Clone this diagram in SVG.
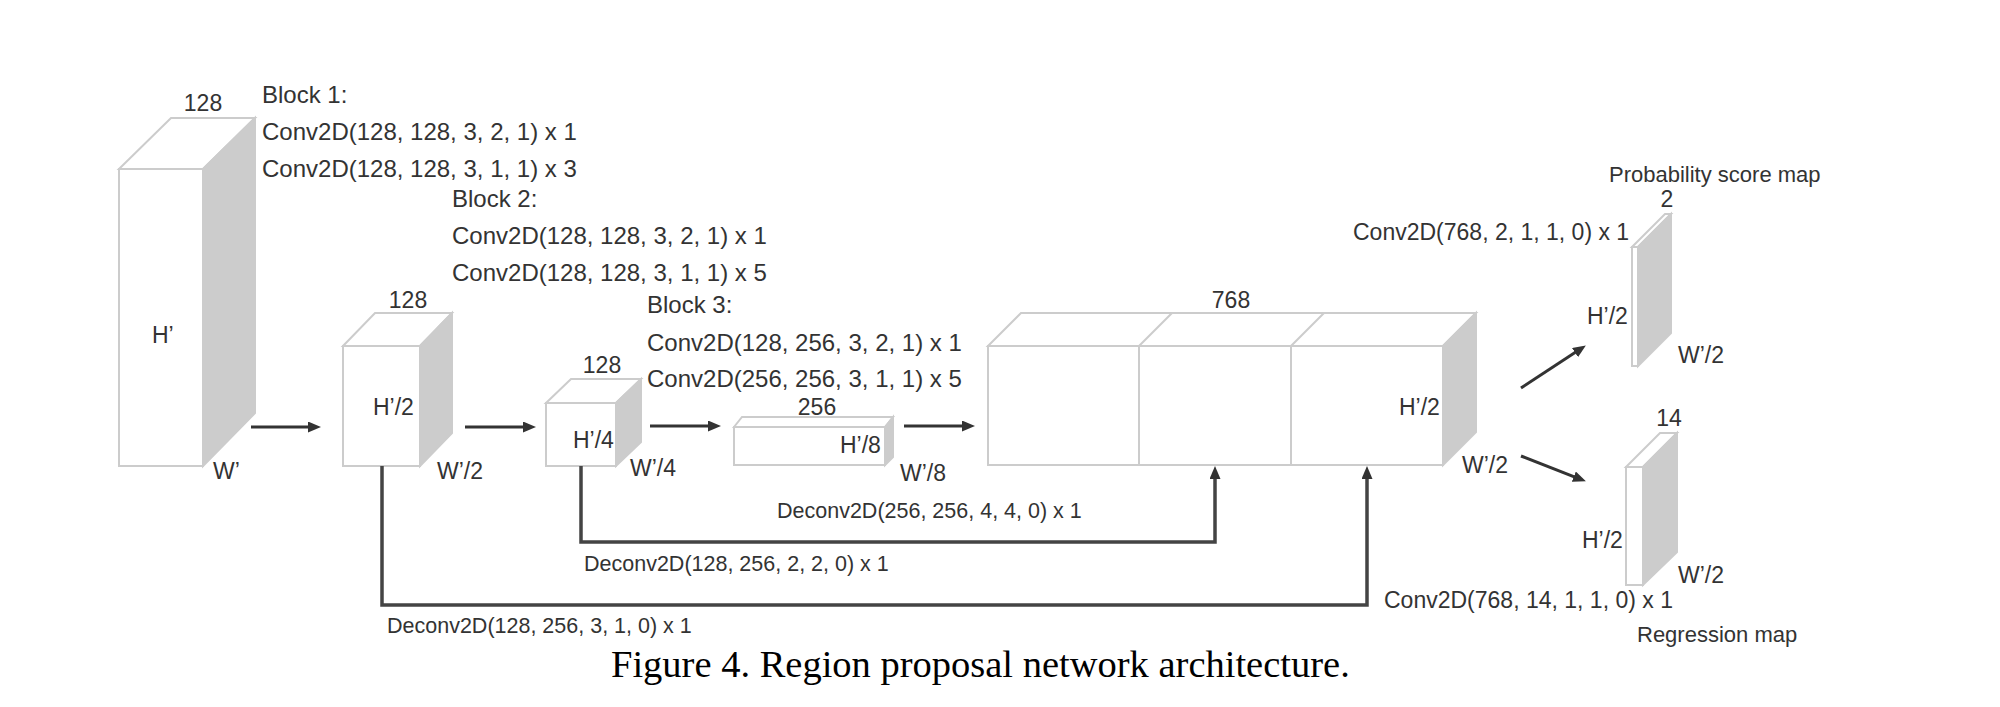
<svg xmlns="http://www.w3.org/2000/svg" width="2000" height="707" viewBox="0 0 2000 707">
<defs>
<style>
.face{fill:#ffffff;stroke:#cccccc;stroke-width:2;stroke-linejoin:miter}
.side{fill:#cccccc;stroke:#cccccc;stroke-width:2}
.t{font-family:"Liberation Sans",Arial,sans-serif;fill:#333333}
.blk{font-size:24px}
.dim{font-size:23px}
.num{font-size:23px;text-anchor:middle}
.dc{font-size:21.5px}
.cv{font-size:23px}
.lbl{font-size:22px}
.cap{font-family:"Liberation Serif","Times New Roman",serif;font-size:38.5px;fill:#000000}
.arr{fill:none;stroke:#333333;stroke-width:3;marker-end:url(#ah)}
.conn{fill:none;stroke:#444444;stroke-width:3.5;marker-end:url(#ah)}
</style>
<marker id="ah" markerUnits="userSpaceOnUse" markerWidth="13" markerHeight="11" refX="6" refY="5.5" orient="auto">
<path d="M0,0 L13,5.5 L0,11 z" fill="#333333"/>
</marker>
</defs>
<rect width="2000" height="707" fill="#ffffff"/>

<g id="box1">
<polygon class="face" points="119,169 171,118 255,118 203,169"/>
<polygon class="side" points="203,169 255,118 255,413 203,466"/>
<rect class="face" x="119" y="169" width="84" height="297"/>
<text class="t num" x="203" y="111">128</text>
<text class="t dim" x="152" y="343">H’</text>
<text class="t dim" x="213" y="479">W’</text>
</g>

<g id="block1-label">
<text class="t blk" x="262" y="103">Block 1:</text>
<text class="t blk" x="262" y="140">Conv2D(128, 128, 3, 2, 1) x 1</text>
<text class="t blk" x="262" y="177">Conv2D(128, 128, 3, 1, 1) x 3</text>
</g>

<g id="box2">
<polygon class="face" points="343,346 375,313 452,313 420,346"/>
<polygon class="side" points="420,346 452,313 452,433 420,466"/>
<rect class="face" x="343" y="346" width="77" height="120"/>
<text class="t num" x="408" y="308">128</text>
<text class="t dim" x="373" y="415">H’/2</text>
<text class="t dim" x="437" y="479">W’/2</text>
</g>

<g id="block2-label">
<text class="t blk" x="452" y="207">Block 2:</text>
<text class="t blk" x="452" y="244">Conv2D(128, 128, 3, 2, 1) x 1</text>
<text class="t blk" x="452" y="281">Conv2D(128, 128, 3, 1, 1) x 5</text>
</g>

<g id="box3">
<polygon class="face" points="546,403 571,379 641,379 616,403"/>
<polygon class="side" points="616,403 641,379 641,442 616,466"/>
<rect class="face" x="546" y="403" width="70" height="63"/>
<text class="t num" x="602" y="373">128</text>
<text class="t dim" x="573" y="448">H’/4</text>
<text class="t dim" x="630" y="476">W’/4</text>
</g>

<g id="block3-label">
<text class="t blk" x="647" y="313">Block 3:</text>
<text class="t blk" x="647" y="351">Conv2D(128, 256, 3, 2, 1) x 1</text>
<text class="t blk" x="647" y="387">Conv2D(256, 256, 3, 1, 1) x 5</text>
</g>

<g id="box4">
<polygon class="face" points="734,427 742,417 893,417 885,427"/>
<polygon class="side" points="885,427 893,417 893,457 885,465"/>
<rect class="face" x="734" y="427" width="151" height="38"/>
<text class="t num" x="817" y="415">256</text>
<text class="t dim" x="840" y="453">H’/8</text>
<text class="t dim" x="900" y="481">W’/8</text>
</g>

<g id="concat">
<polygon class="face" points="988,346 1021,313 1476,313 1443,346"/>
<line class="face" x1="1139" y1="346" x2="1172" y2="313"/>
<line class="face" x1="1291" y1="346" x2="1324" y2="313"/>
<polygon class="side" points="1443,346 1476,313 1476,432 1443,465"/>
<rect class="face" x="988" y="346" width="455" height="119"/>
<line class="face" x1="1139" y1="346" x2="1139" y2="465"/>
<line class="face" x1="1291" y1="346" x2="1291" y2="465"/>
<text class="t num" x="1231" y="308">768</text>
<text class="t dim" x="1399" y="415">H’/2</text>
<text class="t dim" x="1462" y="473">W’/2</text>
</g>

<g id="prob-map">
<polygon class="face" points="1632,247 1665,214 1671,214 1638,247"/>
<polygon class="side" points="1638,247 1671,214 1671,333 1638,366"/>
<rect class="face" x="1632" y="247" width="6" height="119"/>
<text class="t lbl" x="1609" y="182">Probability score map</text>
<text class="t num" x="1667" y="207">2</text>
<text class="t cv" x="1353" y="240">Conv2D(768, 2, 1, 1, 0) x 1</text>
<text class="t dim" x="1587" y="324">H’/2</text>
<text class="t dim" x="1678" y="363">W’/2</text>
</g>

<g id="reg-map">
<polygon class="face" points="1626,467 1660,433 1677,433 1643,467"/>
<polygon class="side" points="1643,467 1677,433 1677,552 1643,585"/>
<rect class="face" x="1626" y="467" width="17" height="118"/>
<text class="t num" x="1669" y="426">14</text>
<text class="t dim" x="1582" y="548">H’/2</text>
<text class="t dim" x="1678" y="583">W’/2</text>
<text class="t cv" x="1384" y="608">Conv2D(768, 14, 1, 1, 0) x 1</text>
<text class="t lbl" x="1637" y="642">Regression map</text>
</g>

<g id="connectors">
<line class="arr" x1="251" y1="427" x2="314" y2="427"/>
<line class="arr" x1="465" y1="427" x2="529" y2="427"/>
<line class="arr" x1="650" y1="426" x2="714" y2="426"/>
<line class="arr" x1="904" y1="426" x2="968" y2="426"/>
<line class="arr" x1="1521" y1="388" x2="1580" y2="349.3"/>
<line class="arr" x1="1521" y1="456" x2="1579.4" y2="478.8"/>
<path class="conn" d="M581,466 V542 H1215 V473"/>
<path class="conn" d="M382,466 V605 H1367 V473"/>
<text class="t dc" x="777" y="518">Deconv2D(256, 256, 4, 4, 0) x 1</text>
<text class="t dc" x="584" y="571">Deconv2D(128, 256, 2, 2, 0) x 1</text>
<text class="t dc" x="387" y="633">Deconv2D(128, 256, 3, 1, 0) x 1</text>
</g>

<text class="cap" x="611" y="677">Figure 4. Region proposal network architecture.</text>
</svg>
